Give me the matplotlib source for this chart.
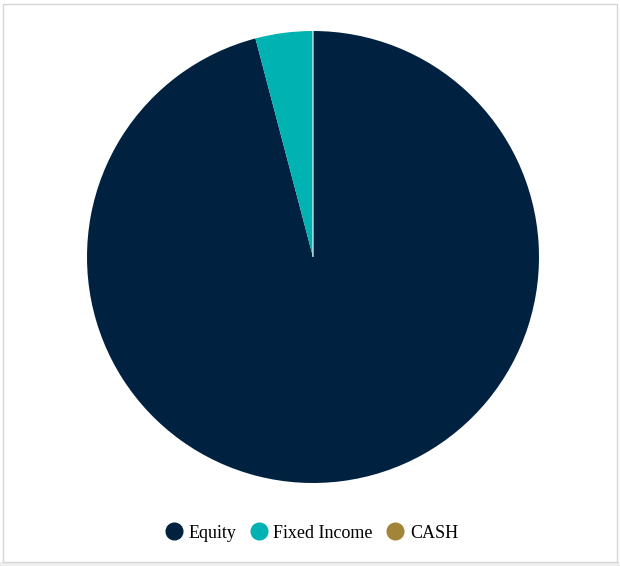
import matplotlib
matplotlib.use("Agg")
import matplotlib.pyplot as plt
from matplotlib.lines import Line2D
from matplotlib.patches import Rectangle

categories = ["Equity", "Fixed Income", "CASH"]
values = [95.9, 4.1, 0.0]
colors = ["#002240", "#00B2B2", "#A38539"]

W, H = 620, 566
fig = plt.figure(figsize=(W / 100, H / 100), dpi=100)
fig.patch.set_facecolor("white")

# chart border and shadow
fig.patches.append(Rectangle((0, 0), 1, (H - 562) / H, transform=fig.transFigure,
                             facecolor="#efefef", edgecolor="none", zorder=0))
fig.patches.append(Rectangle((2.5 / W, (H - 562) / H), (617 - 2.5) / W, (562 - 4) / H,
                             transform=fig.transFigure, facecolor="white",
                             edgecolor="#d6d6d6", linewidth=1.0, zorder=0.5))

cx, cy, r = 313, 257, 226
ax = fig.add_axes([(cx - r) / W, 1 - (cy + r) / H, 2 * r / W, 2 * r / H])
ax.set_zorder(2)
ax.patch.set_alpha(0)
wedges, _ = ax.pie(values, colors=colors, startangle=90, counterclock=False, radius=1,
                   wedgeprops=dict(edgecolor="none", linewidth=0))
wedges[-1].set_edgecolor("white")
wedges[-1].set_linewidth(0.8)
ax.set_xlim(-1, 1)
ax.set_ylim(-1, 1)
ax.set_aspect("equal")
ax.axis("off")

handles = [Line2D([0], [0], marker="o", linestyle="none", markersize=12,
                  markerfacecolor=c, markeredgecolor=c) for c in colors]
leg = fig.legend(handles, categories, loc="center", bbox_to_anchor=(311.5 / W, 1 - 533 / H),
                 ncol=3, frameon=False, handletextpad=0.3, columnspacing=0.75,
                 handlelength=1.0, prop={"family": "Liberation Serif", "size": 13})
leg.set_zorder(3)

fig.savefig("out.png", dpi=100, facecolor="white")
